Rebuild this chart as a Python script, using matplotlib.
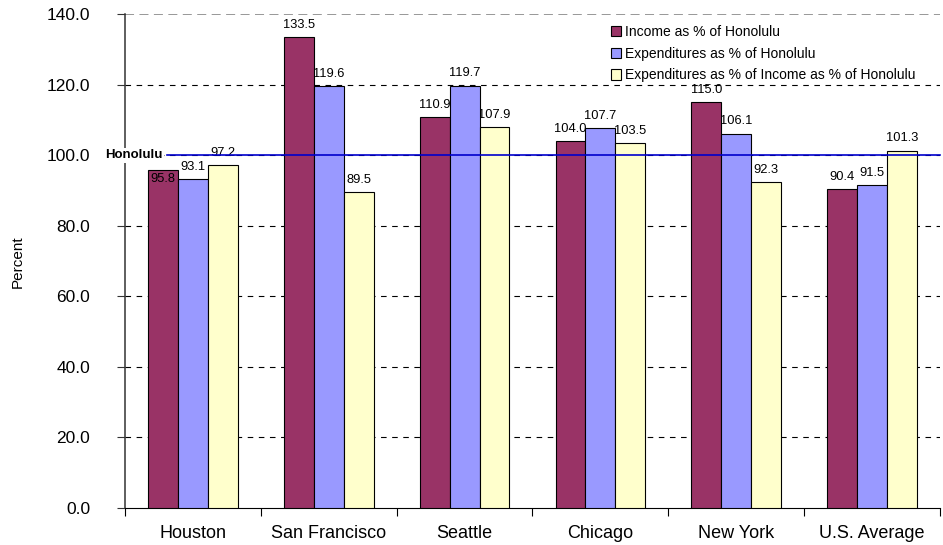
import matplotlib.pyplot as plt
import numpy as np

plt.rcParams['font.family'] = ['Liberation Sans', 'DejaVu Sans']

cities = ['Houston', 'San Francisco', 'Seattle', 'Chicago', 'New York', 'U.S. Average']
income = [95.8, 133.5, 110.9, 104.0, 115.0, 90.4]
expend = [93.1, 119.6, 119.7, 107.7, 106.1, 91.5]
exp_of_inc = [97.2, 89.5, 107.9, 103.5, 92.3, 101.3]
series_names = ['Income as % of Honolulu', 'Expenditures as % of Honolulu',
                'Expenditures as % of Income as % of Honolulu']
honolulu = 100.0

colors = ['#993366', '#9999FF', '#FFFFCC']

fig = plt.figure(figsize=(9.43, 5.45), dpi=100)
ax = fig.add_axes([125 / 943, 37 / 545, 815 / 943, 494 / 545])

x = np.arange(len(cities))
w = 0.22
for i, (vals, c, name) in enumerate(zip([income, expend, exp_of_inc], colors, series_names)):
    pos = x + (i - 1) * w
    ax.bar(pos, vals, width=w, color=c, edgecolor='black', linewidth=0.8, label=name, zorder=3)
    for j, (p, v) in enumerate(zip(pos, vals)):
        # the Houston income label sits inside its bar in the original
        if i == 0 and j == 0:
            ax.text(p, v - 1.0, f'{v:.1f}', ha='center', va='top', fontsize=9.3, zorder=5)
        else:
            ax.text(p, v + 2.6, f'{v:.1f}', ha='center', va='baseline', fontsize=9.3, zorder=0.5)

ax.set_xlim(-0.5, len(cities) - 0.5)
ax.set_ylim(0, 140)
yt = np.arange(0, 141, 20)
ax.set_yticks(yt)
ax.set_yticklabels([f'{t:.1f}' for t in yt], fontsize=12.5)
ax.set_xticks(x)
ax.set_xticklabels(cities, fontsize=13)
ax.tick_params(axis='x', length=0, pad=12)
ax.set_xticks(np.arange(-0.5, len(cities)), minor=True)
ax.tick_params(axis='x', which='minor', length=6, direction='out', width=0.8)
ax.tick_params(axis='y', length=6, direction='out', width=0.8, pad=19, color='#333333')

for t in np.arange(20, 121, 20):
    ax.axhline(t, color='black', linestyle=(0, (5, 5)), linewidth=0.8, zorder=1)
ax.axhline(140, color='#909090', linestyle=(0, (5, 3)), linewidth=1.3, zorder=1)

for s in ['top', 'right']:
    ax.spines[s].set_visible(False)
ax.spines['left'].set_color('#333333')
ax.spines['left'].set_linewidth(1.1)
ax.spines['bottom'].set_color('black')

ax.plot([-0.19, len(cities) - 0.5], [honolulu, honolulu], color='#0000CC', linewidth=1.2,
        zorder=4, clip_on=False)
ax.text(-0.225, honolulu, 'Honolulu', ha='right', va='center', fontsize=9.5, fontweight='bold',
        zorder=6, bbox=dict(facecolor='white', edgecolor='none', pad=1.0))

ax.set_ylabel('Percent', fontsize=11)
ax.yaxis.set_label_coords(-0.1227, 0.498)

leg = ax.legend(loc='upper left', bbox_to_anchor=(0.5825, 1.0), fontsize=10, frameon=False,
                handlelength=0.75, handleheight=0.75, handletextpad=0.25, labelspacing=0.55,
                borderpad=0.3)
for h in leg.legend_handles:
    h.set_linewidth(0.8)

fig.savefig('out.png', dpi=100)
